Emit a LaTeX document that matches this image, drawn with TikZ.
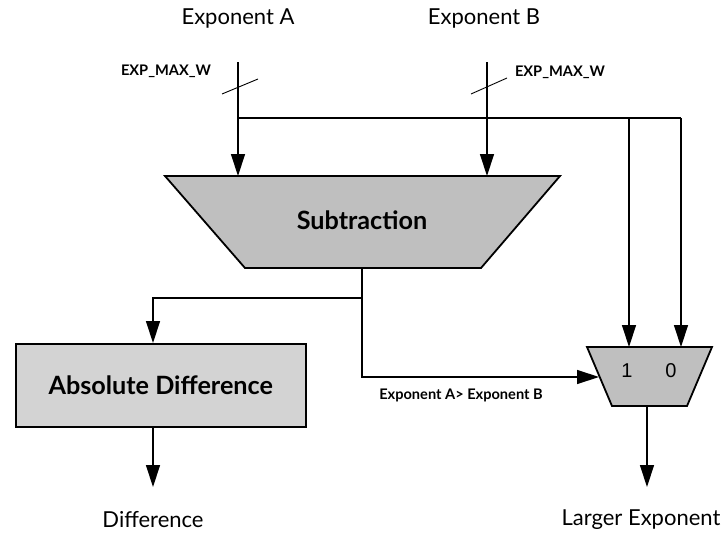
\documentclass[tikz,border=0pt]{standalone}
\usepackage{fontspec}
\setmainfont{Lato}
\newfontfamily\muxfont{Liberation Sans}
\usetikzlibrary{arrows.meta}
\definecolor{subfill}{HTML}{BFBFBF}
\definecolor{absfill}{HTML}{D3D3D3}
\definecolor{muxfill}{HTML}{BFBFBF}
\begin{document}
\begin{tikzpicture}[x=1pt,y=-1pt,
  wire/.style={line width=1.3pt},
  arr/.style={wire,-{Triangle[width=14pt,length=22pt]}},
  blk/.style={draw,line width=1.8pt,line join=miter},
  lbl/.style={inner sep=0pt,font=\fontsize{22}{26}\selectfont},
  busw/.style={inner sep=0pt,font=\bfseries\fontsize{14.6}{17}\selectfont},
  title/.style={inner sep=0pt,font=\bfseries\fontsize{25.2}{30}\selectfont},
  muxnum/.style={inner sep=0pt,font=\muxfont\fontsize{20}{24}\selectfont}
]
\useasboundingbox (0,0) rectangle (721,533);

% input and output labels
\node[lbl] (ina) at (238,19) {Exponent A};
\node[lbl] (inb) at (484,19) {Exponent B};
\node[lbl] (diff) at (153,520) {Difference};
\node[lbl] (larger) at (641,520) {Larger Exponent};

% bus width labels
\node[busw] (wa) at (166,71) {EXP\_MAX\_W};
\node[busw] (wb) at (560,72) {EXP\_MAX\_W};
\node[busw] (cmp) at (461,395) {Exponent A> Exponent B};

% subtraction block
\coordinate (subtl) at (165,176);
\coordinate (subtr) at (560,176);
\coordinate (subbr) at (481,268);
\coordinate (subbl) at (245,268);
\draw[blk,fill=subfill] (subtl) -- (subtr) -- (subbr) -- (subbl) -- cycle;
\node[title] (sub) at (362,220) {Subtraction};
\coordinate (subina) at (238,176);
\coordinate (subinb) at (487,176);
\coordinate (subout) at (362,268);

% absolute difference block
\node[blk,fill=absfill,minimum width=290pt,minimum height=83pt,inner sep=0pt,
      anchor=north west,line width=1.5pt] (abs) at (15,343) {};
\node[title] (abstxt) at (abs.center) {Absolute Difference};
\coordinate (absin) at (153,343);
\coordinate (absout) at (153,426);

% multiplexer
\coordinate (muxtl) at (587,347);
\coordinate (muxtr) at (712,347);
\coordinate (muxbr) at (687,406);
\coordinate (muxbl) at (612,406);
\draw[blk,fill=muxfill] (muxtl) -- (muxtr) -- (muxbr) -- (muxbl) -- cycle;
\node[muxnum] (one) at (627,371) {1};
\node[muxnum] (zero) at (671,371) {0};
\coordinate (mux1) at (629,347);
\coordinate (mux0) at (681,347);
\coordinate (muxsel) at (599,377);
\coordinate (muxout) at (647,406);

% bus sources and fan-out points
\coordinate (srca) at (238,62);
\coordinate (srcb) at (487,62);
\coordinate (ja) at (238,118);
\coordinate (jb) at (487,118);
\coordinate (j1) at (629,118);
\coordinate (j0) at (681,118);

% input buses
\draw[arr] (srca) -- (subina);
\draw[arr] (srcb) -- (subinb);
\draw[wire] (ja) -- (j0);
\draw[arr] (j1) -- (mux1);
\draw[arr] (j0) -- (mux0);

% bus width slashes
\draw[line width=0.9pt] (222,94) -- (258,79);
\draw[line width=0.9pt] (471,94) -- (507,78);

% subtraction result
\coordinate (split) at (362,298);
\draw[arr] (subout) -- (split) -| (absin);
\draw[arr] (split) |- (muxsel);

% outputs
\coordinate (diffend) at (153,487);
\coordinate (largerend) at (647,487);
\draw[arr] (absout) -- (diffend);
\draw[arr] (muxout) -- (largerend);
\end{tikzpicture}
\end{document}
